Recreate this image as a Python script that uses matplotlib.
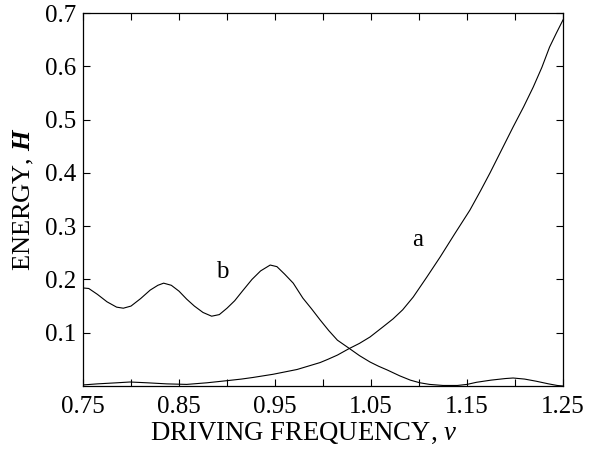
#!/usr/bin/env python3
"""
Energy H versus driving frequency nu for two responses (a and b).
"""

import matplotlib
matplotlib.use("Agg")
import matplotlib.pyplot as plt

# curve a (rising branch)
nu_a = [0.75, 0.765, 0.785, 0.799, 0.817, 0.837, 0.858, 0.879, 0.90, 0.915,
        0.927, 0.948, 0.973, 0.997, 1.005, 1.015, 1.027, 1.038, 1.049, 1.0625,
        1.073, 1.083, 1.094, 1.108, 1.122, 1.137, 1.153, 1.164, 1.174, 1.186,
        1.198, 1.209, 1.219, 1.228, 1.236, 1.243, 1.25]
H_a = [0.002, 0.004, 0.006, 0.0075, 0.006, 0.004, 0.003, 0.006, 0.010, 0.013,
       0.016, 0.022, 0.031, 0.044, 0.050, 0.058, 0.070, 0.080, 0.092, 0.111,
       0.126, 0.143, 0.167, 0.204, 0.242, 0.285, 0.330, 0.366, 0.400, 0.443,
       0.486, 0.524, 0.561, 0.598, 0.636, 0.662, 0.687]

# curve b (oscillating branch)
nu_b = [0.75, 0.756, 0.765, 0.775, 0.785, 0.792, 0.800, 0.810, 0.820, 0.828,
        0.834, 0.842, 0.850, 0.858, 0.866, 0.875, 0.884, 0.892, 0.900, 0.908,
        0.916, 0.926, 0.935, 0.945, 0.952, 0.960, 0.969, 0.979, 0.988, 0.997,
        1.006, 1.015, 1.027, 1.038, 1.049, 1.058, 1.067, 1.080, 1.091, 1.101,
        1.111, 1.125, 1.140, 1.150, 1.160, 1.175, 1.190, 1.198, 1.210, 1.222,
        1.235, 1.244, 1.25]
H_b = [0.184, 0.183, 0.172, 0.158, 0.148, 0.146, 0.150, 0.164, 0.180, 0.189,
       0.193, 0.189, 0.178, 0.163, 0.150, 0.138, 0.131, 0.134, 0.146, 0.160,
       0.178, 0.200, 0.216, 0.227, 0.224, 0.210, 0.193, 0.165, 0.145, 0.124,
       0.104, 0.086, 0.071, 0.057, 0.045, 0.037, 0.030, 0.019, 0.011, 0.006,
       0.003, 0.001, 0.001, 0.003, 0.007, 0.011, 0.014, 0.015, 0.013, 0.009,
       0.004, 0.001, 0.0]

x_major = [0.75, 0.85, 0.95, 1.05, 1.15, 1.25]
x_minor = [0.80, 0.90, 1.00, 1.10, 1.20]
y_ticks = [0.1, 0.2, 0.3, 0.4, 0.5, 0.6, 0.7]

plt.rcParams['font.family'] = ['Liberation Serif', 'DejaVu Serif']
plt.rcParams['mathtext.fontset'] = 'custom'
plt.rcParams['mathtext.it'] = 'Liberation Serif:italic'
plt.rcParams['mathtext.bf'] = 'Liberation Serif:bold:italic'

fig = plt.figure(figsize=(6.0, 4.54), dpi=100)
ax = fig.add_axes([83 / 600, 68 / 454, 480 / 600, 373 / 454])

ax.plot(nu_a, H_a, color='black', linewidth=0.8)
ax.plot(nu_b, H_b, color='black', linewidth=0.8)

ax.text(1.099, 0.274, 'a', fontsize=18, ha='center', va='center')
ax.text(0.895, 0.214, 'b', fontsize=18, ha='center', va='center')

ax.set_xlim(0.75, 1.25)
ax.set_ylim(0, 0.7)
ax.set_xticks(x_major)
ax.set_xticklabels([f'{v:.2f}' for v in x_major])
ax.set_xticks(x_minor, minor=True)
ax.set_yticks(y_ticks)
ax.set_yticklabels([f'{v:.1f}' for v in y_ticks])

ax.tick_params(which='both', direction='in', top=True, right=True,
               length=5, width=0.8, labelsize=18)
ax.tick_params(axis='x', pad=7)
ax.tick_params(axis='y', pad=5)
for sp in ax.spines.values():
    sp.set_linewidth(0.9)

ax.set_xlabel(r'DRIVING FREQUENCY, $\mathit{\nu}$', fontsize=19.3, labelpad=2)
ax.xaxis.label.set_x(0.46)
ax.set_ylabel(r'ENERGY, $\mathbf{H}$', fontsize=19, labelpad=6)

fig.savefig('out.png', dpi=100)
